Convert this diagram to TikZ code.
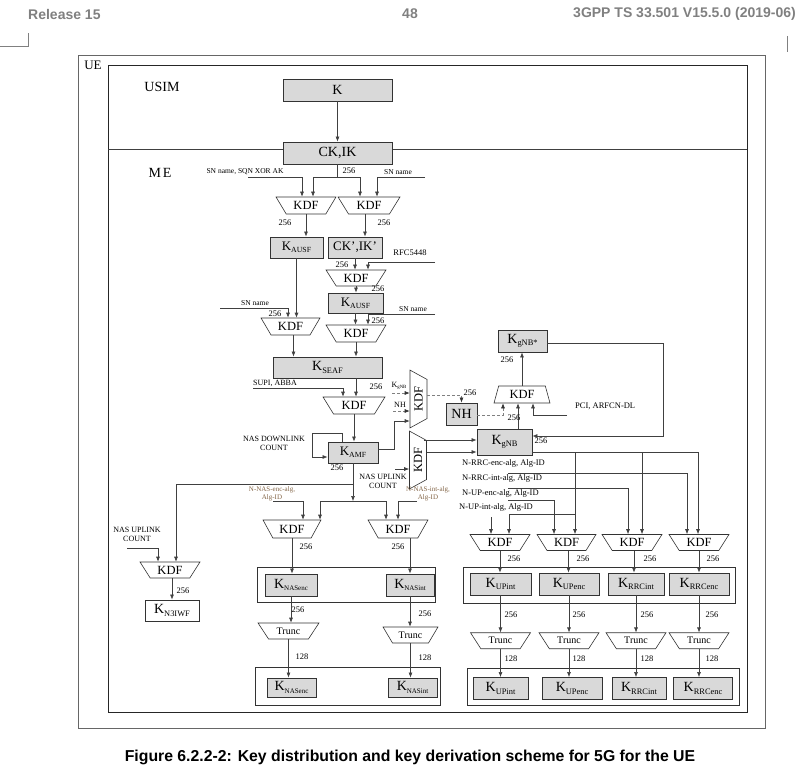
\documentclass[tikz,border=0pt]{standalone}
\usepackage{fontspec}
\setmainfont{Liberation Serif}
\newfontfamily\arialfont{Liberation Sans}
\usetikzlibrary{shapes.geometric,arrows.meta,positioning,calc}

\definecolor{keygray}{RGB}{217,217,217}
\definecolor{hdrgray}{RGB}{128,128,128}
\definecolor{algbrown}{RGB}{130,100,70}

\newcommand{\keyname}[2][0.6]{K\raisebox{-0.35ex}{\scalebox{#1}{#2}}}

\begin{document}
\begin{tikzpicture}[
    x=1pt, y=-1pt,
    keybox/.style={draw=black!80, fill=keygray, line width=0.9pt, inner sep=0pt, minimum height=22pt, font=\fontsize{14}{14}\selectfont},
    kdf/.style={trapezium, trapezium stretches=true, shape border rotate=180, trapezium angle=52, draw=black!80, fill=white, line width=0.6pt, inner sep=0pt, minimum width=60pt, minimum height=17pt, font=\fontsize{12.5}{12.5}\selectfont},
    kdfvert/.style={kdf, rotate=90, trapezium angle=54, minimum width=58pt},
    trunc/.style={kdf, trapezium angle=47, minimum height=16pt, font=\fontsize{10}{10}\selectfont},
    grp/.style={draw=black!80, line width=0.9pt},
    arr/.style={-{Latex[length=5pt,width=4pt]}, draw=black!75, line width=0.6pt},
    dsharr/.style={-{Latex[length=5pt,width=4pt,black!80]}, draw=gray, line width=0.6pt, dash pattern=on 3pt off 2pt},
    ln/.style={draw=black!75, line width=0.6pt},
    num/.style={inner sep=0pt, font=\fontsize{8.5}{8.5}\selectfont},
    small/.style={inner sep=0pt, font=\fontsize{7.5}{7.5}\selectfont},
    cnt/.style={inner sep=0pt, align=center, font=\fontsize{8}{9}\selectfont},
    alg/.style={inner sep=0pt, anchor=west, font=\fontsize{8.5}{8.5}\selectfont},
    nasalg/.style={inner sep=0pt, align=center, text=algbrown, font=\fontsize{7}{8.5}\selectfont},
    hdr/.style={inner sep=0pt, text=hdrgray, font=\arialfont\bfseries\fontsize{14}{14}\selectfont}
]
    \useasboundingbox (0,0) rectangle (801,776);

    % page header
    \node[hdr, anchor=west] (rel) at (28,14) {Release 15};
    \node[hdr] (pgno) at (410,14) {48};
    \node[hdr, anchor=east] (specid) at (796,14) {3GPP TS 33.501 V15.5.0 (2019-06)};
    \draw[hdrgray, line width=0.6pt] (0,46) -- (28,46) -- (28,33);
    \draw[hdrgray, line width=0.6pt] (787,36) -- (787,52);

    % UE / USIM / ME frames
    \draw[draw=black!60, line width=0.8pt] (78,55) rectangle (765,728);
    \draw[draw=black!85, line width=1pt] (108,66) rectangle (747,712);
    \draw[ln] (108,149) -- (747,149);
    \node[inner sep=0pt, font=\fontsize{13}{13}\selectfont] (ue) at (93,65) {UE};
    \node[inner sep=0pt, font=\fontsize{14}{14}\selectfont] (usim) at (162,87) {USIM};
    \node[inner sep=0pt, font=\fontsize{14}{14}\selectfont] (me) at (160,173) {M\kern2ptE};

    % K -> CK,IK
    \node[keybox, minimum width=109pt] (k) at (337.5,90) {K};
    \node[keybox, minimum width=109pt] (ckik) at (337.5,153) {CK,IK};
    \draw[arr] (k) -- (ckik);

    % KAUSF and CK',IK'
    \node[kdf] (kdfa) at (306,205.5) {KDF};
    \node[kdf, minimum width=62pt] (kdfb) at (369,205.5) {KDF};
    \coordinate (jck) at (337.5,177);
    \draw[ln] (ckik.south) -- (jck);
    \draw[arr] (jck) -| ([xshift=7pt]kdfa.north);
    \draw[arr] (jck) -| ([xshift=-9pt]kdfb.north);
    \coordinate (snsqn) at (248,177);
    \draw[arr] (snsqn) -| ([xshift=-4pt]kdfa.north);
    \node[small] (snsqnl) at (245,172) {SN name, SQN XOR AK};
    \coordinate (snb) at (425,177);
    \draw[arr] (snb) -| ([xshift=8pt]kdfb.north);
    \node[small] (snbl) at (398,172) {SN name};
    \node[num] (n01) at (349,171) {256};

    \node[keybox, minimum width=53pt, minimum height=21pt, font=\fontsize{13}{13}\selectfont] (kausfa) at (296.5,247.5) {\keyname{AUSF}};
    \node[keybox, minimum width=54pt, minimum height=21pt, font=\fontsize{13}{13}\selectfont] (ckikp) at (355,247.5) {CK’,IK’};
    \draw[arr] (kdfa.south) -- (kdfa.south |- kausfa.north);
    \draw[arr] ([xshift=-4pt]kdfb.south) -- ([xshift=-4pt]kdfb.south |- ckikp.north);
    \node[num] (n02) at (285,223) {256};
    \node[num] (n03) at (384,223) {256};

    % CK',IK' -> KAUSF
    \node[kdf, minimum height=16pt] (kdfc) at (356,278) {KDF};
    \draw[arr] (ckikp.south) -- (ckikp.south |- kdfc.north);
    \coordinate (rfc) at (435,262);
    \draw[arr] (rfc) -| ([xshift=12pt]kdfc.north);
    \node[num] (rfcl) at (410,253) {RFC5448};
    \node[num] (n04) at (342,265) {256};

    \node[keybox, minimum width=55pt, minimum height=20pt, font=\fontsize{13}{13}\selectfont] (kausfb) at (355.5,303) {\keyname{AUSF}};
    \draw[arr] (kdfc.south) -- (kdfc.south |- kausfb.north);
    \node[num] (n05) at (378,289) {256};

    % KSEAF
    \node[kdf] (kdfd) at (356,333.5) {KDF};
    \draw[arr] (kausfb.south) -- (kausfb.south |- kdfd.north);
    \coordinate (snd) at (435,314);
    \draw[arr] (snd) -| ([xshift=12pt]kdfd.north);
    \node[small] (sndl) at (413,309) {SN name};
    \node[num] (n06) at (378,321) {256};

    \node[kdf, minimum width=59pt] (kdfe) at (290.5,326.5) {KDF};
    \draw[arr] (kausfa.south) -- (kausfa.south |- kdfe.north);
    \coordinate (sne) at (220,308);
    \draw[arr] (sne) -| ([xshift=-2.5pt]kdfe.north);
    \node[small] (snel) at (255,303) {SN name};
    \node[num] (n07) at (275,314) {256};

    \node[keybox, minimum width=109pt, minimum height=21pt] (kseaf) at (327.5,367.5) {\keyname{SEAF}};
    \draw[arr] ([xshift=3pt]kdfe.south) -- ([xshift=3pt]kdfe.south |- kseaf.north);
    \draw[arr] (kdfd.south) -- (kdfd.south |- kseaf.north);

    % KAMF
    \node[kdf, minimum width=62pt] (kdff) at (354,405.5) {KDF};
    \draw[arr] (kseaf.south -| kdfd.south) -- (kdff.north -| kdfd.south);
    \coordinate (supi) at (253,388);
    \draw[arr] (supi) -| ([xshift=-11pt]kdff.north);
    \node[cnt] (supil) at (275,383) {SUPI, ABBA};
    \node[num] (n08) at (376,387) {256};

    \node[keybox, minimum width=50pt, minimum height=21pt, font=\fontsize{13}{13}\selectfont] (kamf) at (353,452.5) {\keyname{AMF}};
    \draw[arr] (kdff.south) -- (kdff.south |- kamf.north);
    \draw[arr] ([xshift=-11pt]kamf.north) |- (312,433) |- ([yshift=-4.5pt]kamf.west);
    \node[cnt] (nasdl) at (274,443) {NAS DOWNLINK\\COUNT};
    \node[num] (n09) at (337,468) {256};

    % NH derivation
    \node[kdfvert] (kdfnh) at (418.5,399) {KDF};
    \coordinate (kgnbin) at (392,393);
    \draw[dsharr] (kgnbin) -- (kgnbin -| kdfnh.north);
    \node[inner sep=0pt, font=\fontsize{8}{8}\selectfont] (kgnbinl) at (399,386) {\keyname{gNB}};
    \coordinate (nhin) at (393,411);
    \draw[dsharr] (nhin) -- (nhin -| kdfnh.north);
    \node[inner sep=0pt, font=\fontsize{8}{8}\selectfont] (nhinl) at (400,405) {NH};
    \coordinate (kamfup) at (394,421);
    \draw[arr] ([yshift=3pt]kamf.east) -| (kamfup) -- (kamfup -| kdfnh.north);

    \node[keybox, minimum width=31pt] (nh) at (461.5,414) {NH};
    \draw[dsharr] ([yshift=4pt]kdfnh.south) -| (nh.north);
    \node[num] (n10) at (470,393) {256};

    % KgNB* derivation
    \node[kdf, shape border rotate=0, trapezium angle=73, minimum width=56pt] (kdfg) at (522,394.5) {KDF};
    \draw[dsharr] ([yshift=-1pt]nh.east) -| ([xshift=-19pt]kdfg.south);
    \node[keybox, minimum width=55pt, minimum height=26pt] (kgnb) at (504.5,442) {\keyname{gNB}};
    \draw[arr] ([xshift=13.5pt]kgnb.north) -- ([xshift=13.5pt]kgnb.north |- kdfg.south);
    \coordinate (pci) at (567,415);
    \draw[arr] (pci) -| ([xshift=11pt]kdfg.south);
    \node[num, anchor=west] (pcil) at (575,406) {PCI, ARFCN-DL};
    \node[num] (n11) at (514,418) {256};

    \node[keybox, minimum width=49pt] (kgnbs) at (522.5,341) {\keyname{gNB*}};
    \draw[arr] (kdfg.north) -- (kdfg.north |- kgnbs.south);
    \node[num] (n12) at (507,360) {256};
    \coordinate (kstar) at (663,436);
    \draw[arr] ([yshift=-2pt]kgnbs.east) -| (kstar) -- (kstar -| kgnb.east);
    \node[num] (n13) at (541,441) {256};

    % KgNB derivation
    \node[kdfvert] (kdfnb) at (418,460) {KDF};
    \coordinate (nasul) at (395,469);
    \draw[arr] (nasul) -- (nasul -| kdfnb.north);
    \node[cnt] (nasull) at (383,481) {NAS UPLINK\\COUNT};
    \coordinate (nbo1) at ([yshift=2pt]kgnb.west);
    \coordinate (nbo2) at ([yshift=-10pt]kgnb.west);
    \draw[arr] ([xshift=-3pt]nbo1 -| kdfnb.south) -- (nbo1);
    \draw[arr] (nbo2 -| kdfnb.south) -- (nbo2);
    \node[nasalg] (nnasint) at (428,494) {N-NAS-int-alg,\\Alg-ID};

    % NAS keys
    \node[kdf, minimum width=58pt, minimum height=18pt] (kdfh) at (292,529) {KDF};
    \node[kdf, minimum height=18pt] (kdfi) at (398,529) {KDF};
    \coordinate (barl) at (320,501);
    \coordinate (barr) at (386,501);
    \draw[arr] (kamf.south) -- (kamf.south |- barl);
    \draw[ln] (barl) -- (barr);
    \draw[arr] (barl) -- (barl |- kdfh.north);
    \draw[arr] (barr) -- (barr |- kdfi.north);
    \coordinate (nasenc) at (273,501);
    \draw[arr] (nasenc) -| ([xshift=11pt]kdfh.north);
    \node[nasalg] (nnasenc) at (272,494) {N-NAS-enc-alg,\\Alg-ID};
    \coordinate (nasint) at (417,501);
    \draw[arr] (nasint) -| (kdfi.north);
    \node[num] (n14) at (306,547) {256};
    \node[num] (n15) at (398,547) {256};

    \draw[grp] (257,567) rectangle (435,602);
    \node[keybox, minimum width=52pt] (knasenca) at (291,585) {\keyname[0.5]{NASenc}};
    \node[keybox, minimum width=48pt] (knasinta) at (410,585) {\keyname[0.5]{NASint}};
    \draw[arr] (kdfh.south) -- (kdfh.south |- knasenca.north);
    \draw[arr] (knasinta.north |- kdfi.south) -- (knasinta.north);

    \node[trunc, minimum width=61pt] (trunca) at (288.5,631) {Trunc};
    \node[trunc, minimum width=55pt] (truncb) at (410.5,635) {Trunc};
    \draw[arr] (knasenca.south) -- (knasenca.south |- trunca.north);
    \draw[arr] (knasinta.south) -- (knasinta.south |- truncb.north);
    \node[num] (n16) at (298,610) {256};
    \node[num] (n17) at (425,614) {256};

    \draw[grp] (255,667) rectangle (440,705);
    \node[keybox, minimum width=49pt, minimum height=19pt] (knasencb) at (291.5,687.5) {\keyname[0.5]{NASenc}};
    \node[keybox, minimum width=49pt, minimum height=19pt] (knasintb) at (412.5,687.5) {\keyname[0.5]{NASint}};
    \draw[arr] (trunca.south) -- (trunca.south |- knasencb.north);
    \draw[arr] (truncb.south) -- (truncb.south |- knasintb.north);
    \node[num] (n18) at (302,657) {128};
    \node[num] (n19) at (425,658) {128};

    % N3IWF key
    \node[kdf, minimum height=16pt] (kdfj) at (170,570) {KDF};
    \coordinate (n3j) at (176,484);
    \draw[arr] (kamf.south |- n3j) -| (n3j |- kdfj.north);
    \coordinate (nasul2) at (127,548);
    \draw[arr] (nasul2) -| ([xshift=-12pt]kdfj.north);
    \node[cnt] (nasul2l) at (137,534) {NAS UPLINK\\COUNT};
    \node[keybox, fill=white, minimum width=54pt, minimum height=21pt] (kn3iwf) at (172,610.5) {\keyname{N3IWF}};
    \draw[arr] (kn3iwf.north |- kdfj.south) -- (kn3iwf.north);
    \node[num] (n20) at (183,591) {256};

    % AS keys from KgNB
    \node[alg] (rrcenc) at (462,463) {N-RRC-enc-alg, Alg-ID};
    \node[alg] (rrcint) at (462,478) {N-RRC-int-alg, Alg-ID};
    \node[alg] (upenc) at (462,493) {N-UP-enc-alg, Alg-ID};
    \node[alg] (upint) at (459,507) {N-UP-int-alg, Alg-ID};

    \node[kdf, minimum height=16pt] (kdfk) at (500,542.5) {KDF};
    \node[kdf, minimum height=16pt, minimum width=59pt] (kdfl) at (566.5,542.5) {KDF};
    \node[kdf, minimum height=16pt] (kdfm) at (632,542.5) {KDF};
    \node[kdf, minimum height=16pt] (kdfn) at (699,542.5) {KDF};

    \coordinate (la) at (508,473);
    \coordinate (lb) at (508,488);
    \coordinate (lc) at (508,500);
    \coordinate (ld) at (491,517);
    \draw[arr] (la) -| ([xshift=-12pt]kdfn.north);
    \draw[arr] (lb) -| ([xshift=-4pt]kdfm.north);
    \draw[arr] (lc) -| ([xshift=-12.5pt]kdfl.north);
    \draw[arr] (ld) -- (ld |- kdfk.north);

    \coordinate (kg1) at (575,452);
    \coordinate (kg2) at (642,452);
    \coordinate (kg3) at (575,514);
    \coordinate (kg4) at (509,514);
    \draw[arr] ([yshift=-10pt]kgnb.east) -| ([xshift=-1pt]kdfn.north);
    \draw[arr] (kg1) -- (kg1 |- kdfl.north);
    \draw[arr] (kg2) -- (kg2 |- kdfm.north);
    \draw[arr] (kg3) -| (kg4 |- kdfk.north);

    \draw[grp] (463,567) rectangle (735,603);
    \node[keybox, minimum width=61pt] (kupinta) at (500.5,584) {\keyname{UPint}};
    \node[keybox, minimum width=60pt] (kupenca) at (569,584) {\keyname{UPenc}};
    \node[keybox, minimum width=56pt] (krrcinta) at (636,584) {\keyname{RRCint}};
    \node[keybox, minimum width=60pt] (krrcenca) at (699,584) {\keyname{RRCenc}};
    \draw[arr] (kdfk.south) -- (kdfk.south |- kupinta.north);
    \draw[arr] ([xshift=2pt]kdfl.south) -- ([xshift=2pt]kdfl.south |- kupenca.north);
    \draw[arr] ([xshift=2pt]kdfm.south) -- ([xshift=2pt]kdfm.south |- krrcinta.north);
    \draw[arr] (kdfn.south) -- (kdfn.south |- krrcenca.north);
    \node[num] (n21) at (514,559) {256};
    \node[num] (n22) at (583,559) {256};
    \node[num] (n23) at (650,559) {256};
    \node[num] (n24) at (713,559) {256};

    \node[trunc, below=37pt of kupinta] (truncc) {Trunc};
    \node[trunc, below=37pt of kupenca] (truncd) {Trunc};
    \node[trunc, below=37pt of krrcinta] (trunce) {Trunc};
    \node[trunc, below=37pt of krrcenca] (truncf) {Trunc};
    \draw[arr] (kupinta.south) -- (truncc.north);
    \draw[arr] (kupenca.south) -- (truncd.north);
    \draw[arr] (krrcinta.south) -- (trunce.north);
    \draw[arr] (krrcenca.south) -- (truncf.north);
    \node[num] (n25) at (511,615) {256};
    \node[num] (n26) at (579,615) {256};
    \node[num] (n27) at (647,615) {256};
    \node[num] (n28) at (712,615) {256};

    \draw[grp] (467,668) rectangle (739,705);
    \node[keybox, minimum width=55pt, below=28pt of truncc] (kupintb) {\keyname{UPint}};
    \node[keybox, minimum width=60pt, below=28pt of truncd, xshift=3pt] (kupencb) {\keyname{UPenc}};
    \node[keybox, minimum width=54pt, below=28pt of trunce, xshift=3pt] (krrcintb) {\keyname{RRCint}};
    \node[keybox, minimum width=59pt, below=28pt of truncf, xshift=4pt] (krrcencb) {\keyname{RRCenc}};
    \draw[arr] (truncc.south) -- (truncc.south |- kupintb.north);
    \draw[arr] (truncd.south) -- (truncd.south |- kupencb.north);
    \draw[arr] (trunce.south) -- (trunce.south |- krrcintb.north);
    \draw[arr] (truncf.south) -- (truncf.south |- krrcencb.north);
    \node[num] (n29) at (511,659) {128};
    \node[num] (n30) at (579,659) {128};
    \node[num] (n31) at (647,659) {128};
    \node[num] (n32) at (712,659) {128};

    % caption
    \node[inner sep=0pt, font=\arialfont\bfseries\fontsize{15.8}{16}\selectfont] (cap) at (410,757) {Figure 6.2.2-2: Key distribution and key derivation scheme for 5G for the UE};
\end{tikzpicture}
\end{document}
